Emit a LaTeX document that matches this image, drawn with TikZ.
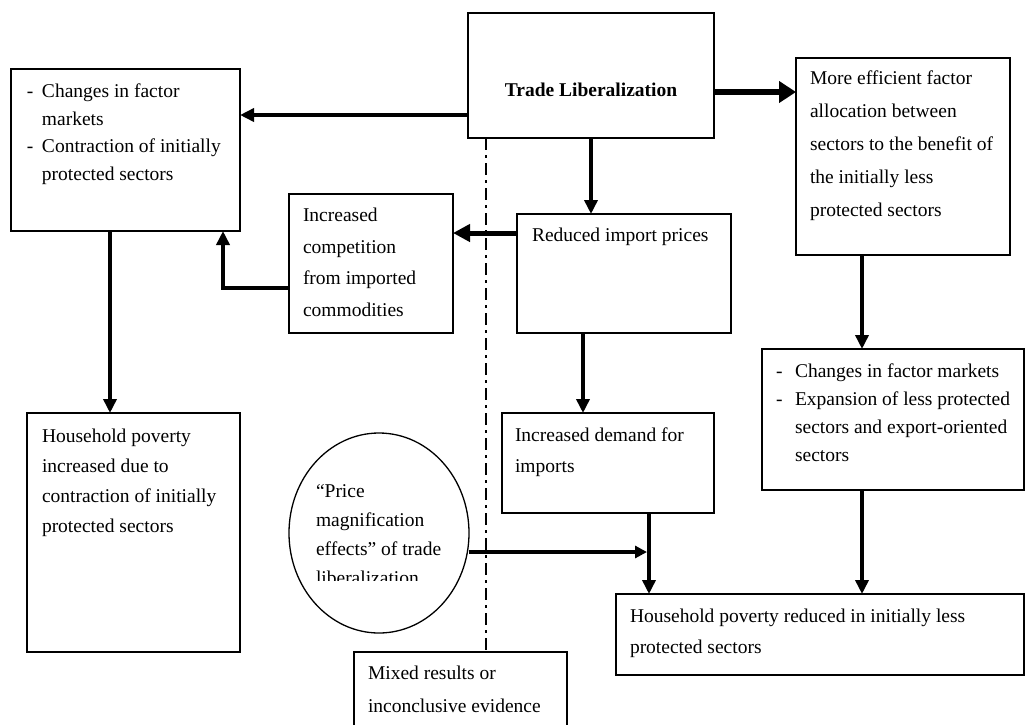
\documentclass[tikz,border=0pt]{standalone}
\usepackage{fontspec}
\setmainfont{Liberation Serif}
\usetikzlibrary{arrows.meta,shapes.geometric,calc}
\newcommand{\fsz}[1]{\fontsize{19.5}{#1}\selectfont}
\begin{document}
\begin{tikzpicture}[x=1pt,y=-1pt,
  box/.style={draw=black, line width=1.3pt, inner sep=0pt, outer sep=0pt, anchor=north west},
  txt/.style={inner sep=0pt, outer sep=0pt, anchor=north west, align=left},
  conn/.style={line width=4pt, -{Triangle[length=14pt,width=13pt]}},
  bigconn/.style={line width=6.5pt, -{Triangle[length=17pt,width=21pt]}},
  midconn/.style={line width=5pt, -{Triangle[length=17pt,width=17pt]}},
  dashdot/.style={line width=2.5pt, dash pattern=on 12pt off 5pt on 3pt off 5pt}
]
\useasboundingbox (0,0) rectangle (1026,724);
\clip (0,0) rectangle (1026,724);
\fill[white] (0,0) rectangle (1026,724);

% boxes
\node[box, minimum width=246pt, minimum height=125pt] (TL) at (468,13) {};
\node[box, minimum width=229pt, minimum height=162pt] (A) at (11,69) {};
\node[box, minimum width=164pt, minimum height=139pt] (B) at (289,194) {};
\node[box, minimum width=214pt, minimum height=119pt] (C) at (517,214) {};
\node[box, minimum width=214pt, minimum height=197pt] (D) at (796,58) {};
\node[box, minimum width=262pt, minimum height=141pt] (E) at (762,349) {};
\node[box, minimum width=212pt, minimum height=100pt] (F) at (502,413) {};
\node[box, minimum width=408pt, minimum height=81pt] (G) at (616,594) {};
\node[box, minimum width=213pt, minimum height=90pt] (H) at (354,652) {};
\node[box, minimum width=213pt, minimum height=239pt] (I) at (27,413) {};
\node[draw=black, line width=1.3pt, ellipse, inner sep=0pt, outer sep=0pt,
      minimum width=180pt, minimum height=200pt] (Circ) at (379,533) {};

% texts
\node[inner sep=0pt, anchor=base, font=\fsz{24}\bfseries] (TLt) at (591,96.5) {Trade Liberalization};
\node[txt, font=\fsz{27.5}] (At) at (27,78.25)
  {\strut\makebox[15pt][l]{-}Changes in factor\\\hspace*{15pt}markets\\\makebox[15pt][l]{-}Contraction of initially\\\hspace*{15pt}protected sectors};
\node[txt, font=\fsz{31.5}] (Bt) at (303,199.45)
  {\strut Increased\\competition\\from imported\\commodities};
\node[txt, font=\fsz{30}] (Ct) at (532,220.5) {\strut Reduced import prices};
\node[txt, font=\fsz{33}] (Dt) at (810,61.4)
  {\strut More efficient factor\\allocation between\\sectors to the benefit of\\the initially less\\protected sectors};
\node[txt, font=\fsz{28}] (Et) at (776,357.9)
  {\strut\makebox[19pt][l]{-}Changes in factor markets\\\makebox[19pt][l]{-}Expansion of less protected\\\hspace*{19pt}sectors and export-oriented\\\hspace*{19pt}sectors};
\node[txt, font=\fsz{31}] (Ft) at (515,419.8) {\strut Increased demand for\\imports};
\node[txt, font=\fsz{31}] (Gt) at (630,600.8) {\strut Household poverty reduced in initially less\\protected sectors};
\node[txt, font=\fsz{33}] (Ht) at (368,656.4) {\strut Mixed results or\\inconclusive evidence};
\node[txt, font=\fsz{30}] (It) at (42,421.5)
  {\strut Household poverty\\increased due to\\contraction of initially\\protected sectors};
\begin{scope}
  \clip (280,440) rectangle (470,580.5);
  \node[txt, font=\fsz{29}] (Ct2) at (316,477.2)
    {\strut ``Price\\magnification\\effects'' of trade\\liberalization};
\end{scope}

% helper coordinates
\coordinate (hA) at (0,115);
\coordinate (hD) at (0,92);
\coordinate (hB) at (0,233);
\coordinate (eB) at (223,288);
\coordinate (xA) at (110,0);
\coordinate (xC) at (583,0);
\coordinate (xD) at (862,0);
\coordinate (xL) at (486,0);
\coordinate (meet) at (649,552);

% dash-dot divider
\draw[dashdot] (TL.south -| xL) -- (H.north -| xL);

% connectors
\draw[conn] (TL.west |- hA) -- (A.east |- hA);
\draw[bigconn] (TL.east |- hD) -- (D.west |- hD);
\draw[conn] (TL.south) -- (C.north -| TL.south);
\draw[midconn] (C.west |- hB) -- (B.east |- hB);
\draw[conn] (B.west |- eB) -- (eB) -- (A.south -| eB);
\draw[conn] (A.south -| xA) -- (I.north -| xA);
\draw[conn] (C.south -| xC) -- (F.north -| xC);
\draw[conn] (D.south -| xD) -- (E.north -| xD);
\draw[conn] (E.south -| xD) -- (G.north -| xD);
\draw[conn] (F.south -| meet) -- (G.north -| meet);
\draw[line width=4pt, -{Triangle[length=12pt,width=12pt]}, shorten >=2pt] (Circ.east |- meet) -- (meet);
\end{tikzpicture}
\end{document}
